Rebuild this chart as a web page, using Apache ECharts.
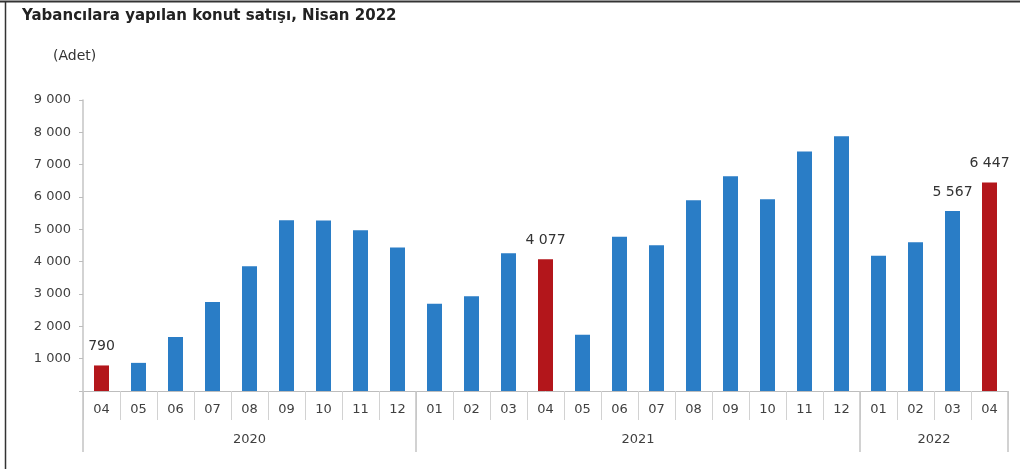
<!DOCTYPE html>
<html>
<head>
<meta charset="utf-8">
<script src="https://cdn.jsdelivr.net/npm/echarts@6/dist/echarts.min.js"></script>
<style>
html,body{margin:0;padding:0;background:#fff;}
#c{width:1020px;height:469px;}
</style>
</head>
<body>
<div id="c"></div>
<script>
var titleText = 'Yabancılara yapılan konut satışı, Nisan 2022';
var unitText = '(Adet)';
var months = ['04','05','06','07','08','09','10','11','12',
              '01','02','03','04','05','06','07','08','09','10','11','12',
              '01','02','03','04'];
var years = ['2020', '2021', '2022'];
var monthsPerYear = [9, 12, 4];
var values2020 = [790, 870, 1670, 2750, 3860, 5280, 5270, 4970, 4440];
var values2021 = [2700, 2930, 4260, 4077, 1740, 4770, 4510, 5900, 6640, 5930, 7410, 7880];
var values2022 = [4180, 4600, 5567, 6447];
var highlighted = [0, 12, 24];
var labelled = [0, 12, 23, 24];

var values = values2020.concat(values2021, values2022);
var blue = '#2a7dc6', red = '#b3161b';
var FONT = 'DejaVu Sans, Verdana, sans-serif';

var bounds = [0], centres = [];
var acc = 0;
monthsPerYear.forEach(function (n) { centres.push(acc + n / 2); acc += n; bounds.push(acc); });

function fmt(v) { return String(v).replace(/\B(?=(\d{3})+(?!\d))/g, ' '); }

var data = values.map(function (v, i) {
  return {
    value: v,
    itemStyle: { color: highlighted.indexOf(i) >= 0 ? red : blue },
    label: { show: labelled.indexOf(i) >= 0 }
  };
});

var chart = echarts.init(document.getElementById('c'), null, { renderer: 'canvas' });
chart.setOption({
  animation: false,
  textStyle: { fontFamily: FONT },
  graphic: [
    { type: 'line', shape: { x1: 0, y1: 1.5, x2: 1020, y2: 1.5 }, style: { stroke: '#333', lineWidth: 2 } },
    { type: 'line', shape: { x1: 5.5, y1: 1, x2: 5.5, y2: 469 }, style: { stroke: '#333', lineWidth: 1.5 } },
    { type: 'text', left: 22, top: 9, style: { text: titleText, font: 'bold 15px ' + FONT, fill: '#222' } },
    { type: 'text', left: 53, top: 49, style: { text: unitText, font: '14px ' + FONT, fill: '#333' } }
  ],
  grid: { left: 83, right: 12, top: 100, bottom: 78, containLabel: false },
  xAxis: [
    {
      type: 'category',
      data: months,
      boundaryGap: true,
      axisLine: { show: true, lineStyle: { color: '#bdbdbd', width: 1 } },
      axisTick: { show: true, interval: 0, length: 29, lineStyle: { color: '#d2d2d2' } },
      axisLabel: { interval: 0, margin: 12, fontSize: 13, color: '#404040' },
      splitLine: { show: false }
    },
    {
      type: 'value',
      position: 'bottom',
      min: 0, max: months.length,
      axisLine: { show: false },
      axisTick: { show: true, customValues: bounds, length: 61, lineStyle: { color: '#c4c4c4', width: 1.5 } },
      axisLabel: {
        customValues: centres, margin: 42, fontSize: 13, color: '#404040',
        formatter: function (v) { var k = centres.indexOf(v); return k >= 0 ? years[k] : ''; }
      },
      splitLine: { show: false }
    }
  ],
  yAxis: {
    type: 'value',
    min: 0, max: 9000, interval: 1000,
    axisLine: { show: true, lineStyle: { color: '#c4c4c4', width: 1.5 } },
    axisTick: { show: true, length: 4, lineStyle: { color: '#bdbdbd' } },
    axisLabel: { margin: 12, fontSize: 13, color: '#404040', formatter: function (v) { return v === 0 ? '' : fmt(v); } },
    splitLine: { show: false }
  },
  series: [{
    type: 'bar',
    xAxisIndex: 0,
    data: data,
    barWidth: 15,
    label: { position: 'top', distance: 12, fontSize: 14, color: '#333', formatter: function (p) { return fmt(p.value); } }
  }]
});
</script>
</body>
</html>
